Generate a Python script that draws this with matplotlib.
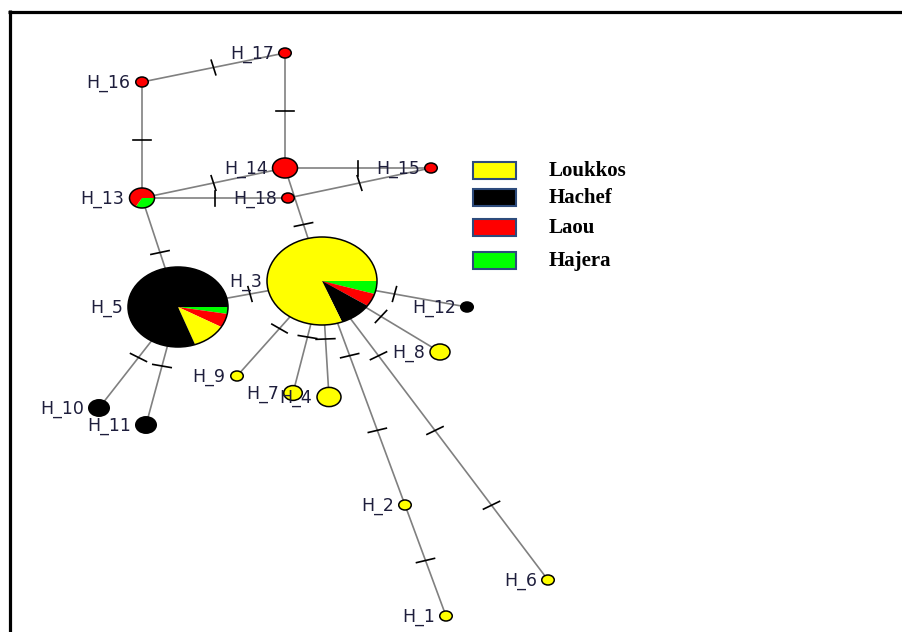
import matplotlib
matplotlib.use('Agg')
import matplotlib.pyplot as plt
from matplotlib.patches import Circle, Rectangle
import numpy as np

# populations and colours
populations = ['Loukkos', 'Hachef', 'Laou', 'Hajera']
pop_colors = ['#ffff00', '#000000', '#ff0000', '#00ff00']

# haplotype network layout (pixel positions) and node radii
haplotypes = ['H_1', 'H_2', 'H_3', 'H_4', 'H_5', 'H_6', 'H_7', 'H_8', 'H_9',
              'H_10', 'H_11', 'H_12', 'H_13', 'H_14', 'H_15', 'H_16', 'H_17', 'H_18']
node_x = [446, 405, 322, 329, 178, 548, 293, 440, 237, 99, 146, 467, 142, 285, 431, 142, 285, 288]
node_y = [616, 505, 281, 397, 307, 580, 393, 352, 376, 408, 425, 307, 198, 168, 168, 82, 53, 198]
node_r = [5, 5, 44, 9.6, 40, 5, 7.4, 8, 5, 8.2, 8.2, 5, 10, 10, 5, 5, 5, 5]

# haplotype counts per population, slices go clockwise from east
composition = {
    'H_1': [('Loukkos', 1)],
    'H_2': [('Loukkos', 1)],
    'H_3': [('Hajera', 2), ('Laou', 2), ('Hachef', 4), ('Loukkos', 34)],
    'H_4': [('Loukkos', 3)],
    'H_5': [('Hajera', 1), ('Laou', 2), ('Loukkos', 4), ('Hachef', 29)],
    'H_6': [('Loukkos', 1)],
    'H_7': [('Loukkos', 2)],
    'H_8': [('Loukkos', 2)],
    'H_9': [('Loukkos', 1)],
    'H_10': [('Hachef', 2)],
    'H_11': [('Hachef', 2)],
    'H_12': [('Hachef', 1)],
    'H_13': [('Hajera', 1), ('Laou', 2)],
    'H_14': [('Laou', 3)],
    'H_15': [('Laou', 1)],
    'H_16': [('Laou', 1)],
    'H_17': [('Laou', 1)],
    'H_18': [('Laou', 1)],
}

# links and number of mutational steps
edges = [('H_16', 'H_17', 1), ('H_16', 'H_13', 1), ('H_17', 'H_14', 1),
         ('H_14', 'H_15', 1), ('H_13', 'H_14', 1), ('H_13', 'H_18', 1),
         ('H_18', 'H_15', 1), ('H_14', 'H_3', 1), ('H_13', 'H_5', 1),
         ('H_5', 'H_3', 1), ('H_5', 'H_10', 1), ('H_5', 'H_11', 1),
         ('H_3', 'H_9', 1), ('H_3', 'H_7', 1), ('H_3', 'H_4', 1),
         ('H_3', 'H_8', 1), ('H_3', 'H_12', 1), ('H_3', 'H_2', 2),
         ('H_2', 'H_1', 1), ('H_3', 'H_6', 3)]

W, H = 903, 632
S = 1.25   # horizontal stretch of the drawing
col = dict(zip(populations, pop_colors))
pos = {h: (x / S, y) for h, x, y in zip(haplotypes, node_x, node_y)}
rad = dict(zip(haplotypes, node_r))

fig = plt.figure(figsize=(W / 100, H / 100), dpi=100)
ax = fig.add_axes([0, 0, 1, 1])

# edges
for a, b, n in edges:
    (x0, y0), (x1, y1) = pos[a], pos[b]
    ax.plot([x0, x1], [y0, y1], color='#808080', lw=1.2, zorder=1)
    d = np.array([x1 - x0, y1 - y0])
    nv = np.array([-d[1], d[0]]) / np.hypot(*d)
    for i in range(1, n + 1):
        c = np.array([x0, y0]) + d * i / (n + 1)
        p = np.array([c - nv * 7.5, c + nv * 7.5])
        ax.plot(p[:, 0], p[:, 1], color='black', lw=1.2, zorder=2)

# nodes as pies
for h in haplotypes:
    pops, counts = zip(*composition[h])
    ax.pie(counts, colors=[col[p] for p in pops], center=pos[h], radius=rad[h],
           startangle=0, counterclock=True, frame=True,
           wedgeprops=dict(edgecolor='none', linewidth=0, zorder=3))
    ax.add_patch(Circle(pos[h], rad[h], fill=False, ec='black', lw=1.1, zorder=4))

# labels
for h in haplotypes:
    x, y = pos[h]
    ax.text(x - rad[h] - 4, y + 1, h, ha='right', va='center', fontsize=12.5,
            color='#1e1e3c', family='DejaVu Sans', zorder=5)

# legend
leg_y = [162, 189, 219, 252]
for p, c, y in zip(populations, pop_colors, leg_y):
    ax.add_patch(Rectangle((473 / S, y), 43 / S, 17, fc=c, ec='#2d4b7c', lw=1.5, zorder=5))
    ax.text(549 / S, y + 9, p, ha='left', va='center', fontsize=15, fontweight='bold',
            family='Liberation Serif', color='black', zorder=5)

# frame
ax.plot([8 / S, W / S], [11.5, 11.5], color='black', lw=2.3, solid_capstyle='butt', clip_on=False)
ax.plot([9.5 / S, 9.5 / S], [10, H], color='black', lw=2.3, solid_capstyle='butt', clip_on=False)

ax.set_aspect('auto')
ax.set_xlim(0, W / S)
ax.set_ylim(H, 0)
ax.axis('off')

fig.savefig('out.png', dpi=100)
